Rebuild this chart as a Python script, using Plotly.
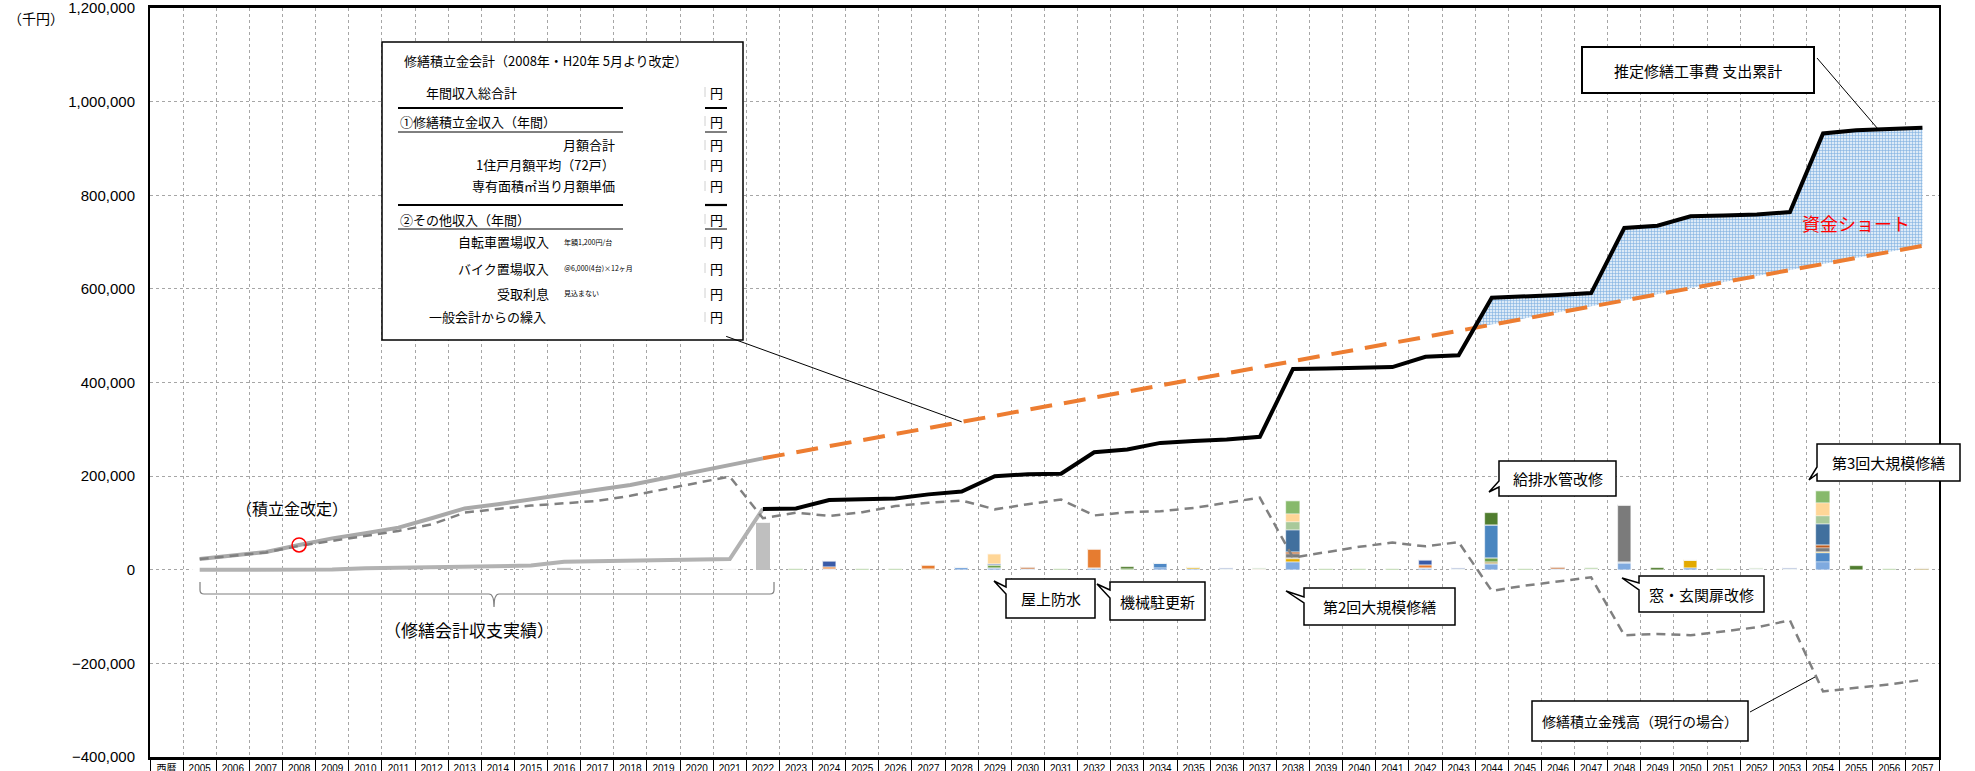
import plotly.graph_objects as go

# ---------------- data (千円) ----------------
ACTUAL_YEARS = list(range(2005, 2023))
PLAN_YEARS = list(range(2022, 2058))
ALL_YEARS = list(range(2005, 2058))
AXIS_YEARS = list(range(2004, 2058))  # 2004 = header column "西暦 / 経過年"

# actual cumulative reserve income (gray thick)
income_actual = [22800, 30000, 38000, 53000, 67000, 78000, 90000, 110000, 131000,
                 140000, 151000, 161000, 171000, 181000, 195000, 211000, 224000, 238000]
# actual cumulative repair expenditure (gray thick, lower)
expense_actual = [0, 0, 0, 0, 500, 3000, 4500, 6000, 7000, 8000, 9000, 17000,
                  18000, 20000, 21000, 22000, 23000, 130000]
# projected cumulative reserve income (orange dashed)
income_plan = [238000, 251000, 264000, 277000, 290000, 303000, 316000, 329000, 342000,
               355000, 368000, 381000, 394000, 407000, 420000, 433000, 446000, 459000,
               472000, 485000, 498000, 511000, 524000, 537000, 550000, 563000, 576000,
               589000, 602000, 615000, 628000, 641000, 654000, 667000, 680000, 692000]
# estimated cumulative repair expenditure (black)
expense_plan = [130000, 131000, 149000, 150000, 152000, 161000, 167000, 200000, 204000,
                205000, 251000, 257000, 271000, 275000, 278000, 284000, 429000, 430000,
                431000, 433000, 455000, 458000, 581000, 583000, 587000, 591000, 730000,
                735000, 755000, 757000, 759000, 764000, 932000, 939000, 942000, 944000]
# reserve balance, current plan (gray dashed)
balance = [22800, 30000, 37000, 51000, 62000, 73000, 83000, 97000, 122000, 130000,
           137000, 142000, 147000, 158000, 172000, 186000, 199000, 110000, 122000,
           115000, 123000, 136000, 143000, 148000, 129000, 140000, 150000, 116000,
           123000, 125000, 132000, 143000, 154000, 26000, 38000, 49000, 58000, 50000,
           59000, -45000, -34000, -25000, -16000, -140000, -137000, -140000, -131000,
           -123000, -108000, -260000, -252000, -245000, -235000]

# yearly repair cost components (stacked bars), {year: value}
bar_actual = {2013: 1000, 2016: 5000, 2018: 2000, 2021: 2000, 2022: 101000}
bar_components = [
    ("lightblue", "#7FAADF", {2024: 2000, 2028: 5700, 2029: 3500, 2030: 1500, 2032: 4000, 2034: 4000,
                              2035: 1000, 2036: 1000, 2038: 16000, 2042: 3000, 2043: 1000, 2044: 12000,
                              2046: 1500, 2047: 1000, 2048: 14000, 2050: 3000, 2052: 1000, 2053: 1000,
                              2054: 17000}),
    ("midblue", "#4F89C6", {2034: 10000, 2054: 18400}),
    ("gold", "#E3AA00", {2035: 4000, 2038: 6000, 2050: 17500, 2054: 2000}),
    ("tan", "#BDAA6A", {2027: 2000, 2037: 1000, 2038: 3000, 2044: 3500, 2057: 3500}),
    ("paleblue", "#A9BFD6", {2048: 3000}),
    ("greenlow", "#6FA04A", {2029: 6000, 2044: 10500}),
    ("gray", "#7B7B7B", {2038: 8000, 2048: 122000, 2054: 8500}),
    ("brown", "#BC5A1E", {2030: 3500, 2038: 4000, 2046: 4000, 2054: 6400}),
    ("orange", "#E67C30", {2024: 4000, 2027: 8000, 2032: 41000, 2042: 8000}),
    ("blue44", "#4A86C0", {2044: 69500}),
    ("steel", "#41709E", {2038: 47000, 2054: 44700}),
    ("darkblue", "#3A5BA8", {2024: 12000, 2029: 3500, 2036: 2500, 2042: 10000, 2043: 3000, 2053: 2500}),
    ("lightgreen", "#A9C99A", {2037: 3000, 2038: 18000, 2052: 2000, 2054: 17700}),
    ("peach", "#FFD697", {2029: 20000, 2038: 18000, 2054: 28000}),
    ("green", "#87B96B", {2023: 1500, 2025: 1500, 2026: 1500, 2031: 1500, 2033: 2000, 2038: 26000,
                          2039: 1500, 2040: 1500, 2041: 1500, 2045: 1500, 2047: 2000, 2051: 1500,
                          2054: 24800, 2056: 1500}),
    ("darkgreen", "#507D2F", {2033: 3000, 2044: 26000, 2049: 4000, 2055: 7000}),
]

x_labels = ["西暦<br>経過年"] + [f"{y}<br>{y - 2004}年" for y in ALL_YEARS]

# ---------------- layout geometry ----------------
W, H = 1975, 771
ML, MR, MT, MB = 150, 36, 8, 14
PW, PH = W - ML - MR, H - MT - MB
JP = "Noto Sans CJK JP"


def px(x):
    return (x - ML) / PW


def py(y):
    return (H - MB - y) / PH


fig = go.Figure()

# bars
fig.add_trace(go.Bar(x=ALL_YEARS, y=[bar_actual.get(y, 0) for y in ALL_YEARS], width=0.4,
                     marker=dict(color="#BFBFBF", line=dict(width=0)), hoverinfo="skip"))
for name, color, vals in bar_components:
    fig.add_trace(go.Bar(x=ALL_YEARS, y=[vals.get(y, 0) for y in ALL_YEARS], width=0.4, name=name,
                         marker=dict(color=color, line=dict(width=0.5, color="rgba(255,255,255,0.7)")),
                         hoverinfo="skip"))

# shortage fill between projected income and projected expenditure
idx = next(i for i in range(1, len(PLAN_YEARS)) if expense_plan[i] > income_plan[i])
d0 = expense_plan[idx - 1] - income_plan[idx - 1]
d1 = expense_plan[idx] - income_plan[idx]
t = -d0 / (d1 - d0)
xc = PLAN_YEARS[idx - 1] + t
yc = income_plan[idx - 1] + t * (income_plan[idx] - income_plan[idx - 1])
fx = [xc] + PLAN_YEARS[idx:]
fig.add_trace(go.Scatter(x=fx, y=[yc] + income_plan[idx:], mode="lines",
                         line=dict(width=0, color="rgba(0,0,0,0)"), hoverinfo="skip"))
fig.add_trace(go.Scatter(x=fx, y=[yc] + expense_plan[idx:], mode="lines", fill="tonexty",
                         fillcolor="#D3E5F6",
                         fillpattern=dict(shape="+", size=3, solidity=0.35, fgcolor="#7FB0E0",
                                          bgcolor="#DCEAF7", fillmode="replace"),
                         line=dict(width=0, color="rgba(0,0,0,0)"), hoverinfo="skip"))

# projected income dashed, actual lines
fig.add_trace(go.Scatter(x=PLAN_YEARS, y=income_plan, mode="lines",
                         line=dict(color="#ED7D31", width=4, dash="22px,12px"), hoverinfo="skip"))
fig.add_trace(go.Scatter(x=ACTUAL_YEARS, y=income_actual, mode="lines",
                         line=dict(color="#A9A9A9", width=4), hoverinfo="skip"))
fig.add_trace(go.Scatter(x=ACTUAL_YEARS, y=expense_actual, mode="lines",
                         line=dict(color="#B2B2B2", width=4), hoverinfo="skip"))
fig.add_trace(go.Scatter(x=PLAN_YEARS, y=expense_plan, mode="lines",
                         line=dict(color="black", width=4), hoverinfo="skip"))
fig.add_trace(go.Scatter(x=ALL_YEARS, y=balance, mode="lines",
                         line=dict(color="#808080", width=2.5, dash="9px,6px"), hoverinfo="skip"))
# red circle at the 2008 revision
fig.add_trace(go.Scatter(x=[ACTUAL_YEARS[3]], y=[income_actual[3]], mode="markers",
                         marker=dict(symbol="circle-open", size=14, color="red", line=dict(width=1.5)),
                         hoverinfo="skip"))

shapes = []
annos = []


def text(t, x, y, size=13, anchor="center", color="black", family=JP):
    annos.append(dict(text=t, x=px(x), y=py(y), xref="paper", yref="paper", showarrow=False,
                      xanchor=anchor, yanchor="middle", font=dict(size=size, color=color, family=family)))


def hline(x0, x1, y, w=1.0):
    shapes.append(dict(type="line", xref="paper", yref="paper", x0=px(x0), x1=px(x1), y0=py(y), y1=py(y),
                       line=dict(color="black", width=w)))


def callout(t, x0, y0, x1, y1, tip, base, size=15):
    pts = [(x0, y0), (x1, y0), (x1, y1), (x0, y1), (x0, base[1]), tip, (x0, base[0])]
    path = "M " + " L ".join(f"{px(a):.5f},{py(b):.5f}" for a, b in pts) + " Z"
    shapes.append(dict(type="path", path=path, xref="paper", yref="paper", fillcolor="white",
                       line=dict(color="black", width=1.5)))
    text(t, (x0 + x1) / 2, (y0 + y1) / 2, size)


def box(t, x0, y0, x1, y1, size=15, lw=1.5):
    shapes.append(dict(type="rect", xref="paper", yref="paper", x0=px(x0), x1=px(x1), y0=py(y1), y1=py(y0),
                       fillcolor="white", line=dict(color="black", width=lw)))
    if t:
        text(t, (x0 + x1) / 2, (y0 + y1) / 2, size)


# big summary box
box("", 382, 42, 743, 340, lw=1.5)
text("修繕積立金会計（2008年・H20年 5月より改定）", 402, 60, 13, "left")
text("年間収入総合計", 424, 92, 13, "left")
hline(398, 623, 108, 2)
hline(705, 727, 108, 2)
text("①修繕積立金収入（年間）", 398, 121, 13, "left")
hline(398, 623, 132, 1)
hline(705, 727, 132, 1)
text("月額合計", 617, 145, 13, "right")
text("1住戸月額平均（72戸）", 617, 165, 13, "right")
text("専有面積㎡当り月額単価", 617, 186, 13, "right")
hline(398, 623, 205, 2.2)
hline(705, 727, 205, 2.2)
text("②その他収入（年間）", 398, 219, 13, "left")
hline(398, 623, 229, 1)
hline(705, 727, 229, 1)
text("自転車置場収入", 551, 242, 13, "right")
text("年額1,200円/台", 562, 242, 7, "left")
text("バイク置場収入", 551, 268, 13, "right")
text("＠6,000(4台)×12ヶ月", 562, 268, 7, "left")
text("受取利息", 551, 293, 13, "right")
text("見込まない", 562, 293, 7, "left")
text("一般会計からの繰入", 427, 317, 13, "left")
for yy in [92, 121, 145, 165, 186, 219, 242, 268, 293, 317]:
    text("円", 716, yy, 13)
    shapes.append(dict(type="line", xref="paper", yref="paper", x0=px(705), x1=px(705),
                       y0=py(yy - 5), y1=py(yy + 5), line=dict(color="#D0D0D0", width=1)))

# leader from summary box to projected income line (2028)
annos.append(dict(x=2028, y=income_plan[PLAN_YEARS.index(2028)], xref="x", yref="y", text="",
                  showarrow=True, arrowhead=0, arrowwidth=1, arrowcolor="black", ax=-237, ay=-86))

# callouts
box("推定修繕工事費 支出累計", 1582, 47, 1814, 93, 15, 2)
shapes.append(dict(type="line", xref="paper", yref="paper", x0=px(1817), y0=py(58), x1=px(1878), y1=py(129),
                   line=dict(color="black", width=1)))
text("資金ショート", 1856, 223, 18, color="#FF0000")
callout("給排水管改修", 1499, 461, 1616, 496, (1489, 492), (481, 487))
callout("第3回大規模修繕", 1817, 444, 1960, 481, (1809, 480), (467, 474))
callout("窓・玄関扉改修", 1639, 576, 1764, 612, (1622, 578), (583, 590))
callout("第2回大規模修繕", 1304, 588, 1455, 625, (1286, 591), (597, 603))
callout("屋上防水", 1006, 579, 1095, 618, (994, 581), (587, 594))
callout("機械駐更新", 1110, 582, 1205, 620, (1097, 584), (590, 598))
box("修繕積立金残高（現行の場合）", 1532, 701, 1748, 741, 14, 1.5)
shapes.append(dict(type="line", xref="paper", yref="paper", x0=px(1750), y0=py(712), x1=px(1815), y1=py(677),
                   line=dict(color="black", width=1)))

# texts on the left
text("（積立金改定）", 292, 508, 16)
text("（修繕会計収支実績）", 469, 629, 17)
bracket = [("M", 200, 582), ("L", 200, 590), ("Q", 200, 594, 204, 594), ("L", 489, 594),
           ("Q", 494, 594, 494, 607), ("Q", 494, 594, 499, 594), ("L", 770, 594),
           ("Q", 774, 594, 774, 590), ("L", 774, 582)]
path = ""
for seg in bracket:
    cmd, *c = seg
    pairs = [f"{px(c[i]):.5f},{py(c[i + 1]):.5f}" for i in range(0, len(c), 2)]
    path += cmd + " " + " ".join(pairs) + " "
shapes.append(dict(type="path", path=path.strip(), xref="paper", yref="paper",
                   line=dict(color="#7F7F7F", width=1.2)))
text("（千円）", 36, 18, 14)

fig.update_layout(
    width=W, height=H, margin=dict(l=ML, r=MR, t=MT, b=MB, autoexpand=False),
    paper_bgcolor="white", plot_bgcolor="white", showlegend=False,
    barmode="relative", bargap=0,
    shapes=shapes, annotations=annos,
    font=dict(family=JP, color="black"),
)
fig.update_xaxes(
    range=[2003.5, 2057.5], tickmode="array", tickvals=AXIS_YEARS, ticktext=x_labels,
    ticks="", showgrid=False, zeroline=False, automargin=False,
    tickfont=dict(family="Liberation Sans Narrow, Liberation Sans, Noto Sans CJK JP", size=10, color="black"),
    ticklabelstandoff=0, ticklabeloverflow="allow",
    showline=True, mirror=True, linecolor="black", linewidth=2.5,
    minor=dict(tickmode="linear", tick0=2003.5, dtick=1, showgrid=True, gridcolor="#A6A6A6",
               griddash="dot", gridwidth=1, ticks="outside", ticklen=16, tickcolor="black", tickwidth=1.2),
)
fig.update_yaxes(
    range=[-400000, 1200000], tickmode="linear", tick0=-400000, dtick=200000, tickformat=",",
    showgrid=True, gridcolor="#A6A6A6", griddash="dot", gridwidth=1, zeroline=False, automargin=False,
    tickfont=dict(family="Liberation Sans Narrow, Liberation Sans", size=15, color="black"),
    ticks="", ticklabelstandoff=10, ticklabeloverflow="allow",
    showline=True, mirror=True, linecolor="black", linewidth=2,
)

fig.write_html("out.html")
